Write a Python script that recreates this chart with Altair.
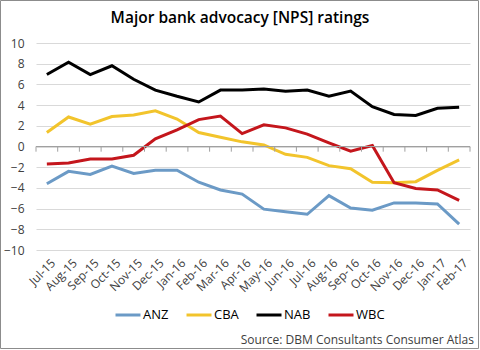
import altair as alt
import pandas as pd

months = ["Jul-15", "Aug-15", "Sep-15", "Oct-15", "Nov-15", "Dec-15", "Jan-16", "Feb-16",
          "Mar-16", "Apr-16", "May-16", "Jun-16", "Jul-16", "Aug-16", "Sep-16", "Oct-16",
          "Nov-16", "Dec-16", "Jan-17", "Feb-17"]
banks = ["ANZ", "CBA", "NAB", "WBC"]
anz = [-3.6, -2.4, -2.7, -1.9, -2.6, -2.3, -2.3, -3.45, -4.2, -4.6, -6.05, -6.3, -6.55, -4.75,
       -5.95, -6.15, -5.45, -5.45, -5.55, -7.5]
cba = [1.35, 2.85, 2.15, 2.9, 3.05, 3.45, 2.65, 1.35, 0.9, 0.45, 0.15, -0.75, -1.05, -1.85,
       -2.15, -3.45, -3.5, -3.4, -2.3, -1.3]
nab = [6.95, 8.15, 6.95, 7.8, 6.5, 5.45, 4.85, 4.3, 5.45, 5.45, 5.55, 5.35, 5.45, 4.85,
       5.35, 3.85, 3.1, 3.0, 3.7, 3.8]
wbc = [-1.7, -1.6, -1.2, -1.2, -0.85, 0.75, 1.6, 2.6, 2.95, 1.25, 2.1, 1.8, 1.2, 0.35,
       -0.45, 0.1, -3.5, -4.05, -4.2, -5.2]
colors = ["#6B9AC6", "#F2C42C", "#000000", "#C4161C"]
title_text = "Major bank advocacy [NPS] ratings"
source_text = "Source: DBM Consultants Consumer Atlas"
y_ticks = [-10, -8, -6, -4, -2, 0, 2, 4, 6, 8, 10]

rows = []
for bank, vals in zip(banks, [anz, cba, nab, wbc]):
    for m, v in zip(months, vals):
        rows.append({"bank": bank, "month": m, "value": v})
df = pd.DataFrame(rows)
mdf = pd.DataFrame({"month": months})

FONT = "Open Sans"
W, H = 434, 207
AXIS_GRAY = "#A0A0A0"
xscale = alt.Scale(type="band", paddingInner=0, paddingOuter=0)
yscale = alt.Scale(domain=[-10, 10], nice=False, zero=False)

x_axis = alt.Axis(orient="bottom", labelAngle=-45, ticks=False, domain=False, grid=False,
                  labelFontSize=12, labelColor="#404040", labelFont=FONT, labelPadding=7,
                  labelOffset=3, labelOverlap=False)
y_axis = alt.Axis(values=y_ticks, grid=True, gridColor="#D9D9D9",
                  domain=False, ticks=False, labelPadding=12, labelFontSize=12,
                  labelColor="#404040", labelFont=FONT, labelOverlap=False, labelFlush=False)

zero_line = alt.Chart(mdf).mark_rule(color=AXIS_GRAY, strokeWidth=1).encode(
    y=alt.Y(datum=0, scale=yscale, axis=y_axis, title=None)
)

ticks_start = alt.Chart(mdf).mark_rule(color=AXIS_GRAY, strokeWidth=1).encode(
    x=alt.X("month:O", sort=months, scale=xscale, bandPosition=0, axis=x_axis, title=None),
    y=alt.Y(datum=0, scale=yscale, axis=y_axis, title=None),
    y2=alt.datum(-0.5),
)
ticks_end = alt.Chart(mdf).transform_filter(
    alt.datum.month == months[-1]
).mark_rule(color=AXIS_GRAY, strokeWidth=1).encode(
    x=alt.X("month:O", sort=months, scale=xscale, bandPosition=1, axis=x_axis, title=None),
    y=alt.Y(datum=0, scale=yscale, axis=y_axis, title=None),
    y2=alt.datum(-0.5),
)

lines = alt.Chart(df).mark_line(strokeWidth=3).encode(
    x=alt.X("month:O", sort=months, scale=xscale, bandPosition=0.5, axis=x_axis, title=None),
    y=alt.Y("value:Q", scale=yscale, title=None, axis=y_axis),
    color=alt.Color("bank:N", scale=alt.Scale(domain=banks, range=colors),
                    legend=alt.Legend(orient="none", legendX=78, legendY=258,
                                      direction="horizontal", columns=4, title=None,
                                      symbolType="stroke", symbolSize=625,
                                      symbolStrokeWidth=3, labelFont=FONT,
                                      labelFontSize=13, labelColor="#000000",
                                      columnPadding=11, labelOffset=1)),
)

title = alt.Chart(pd.DataFrame({"t": [title_text]})).mark_text(
    align="center", baseline="alphabetic", font=FONT, fontSize=15.5, fontWeight=600,
    color="#000000"
).encode(text="t:N", x=alt.value(204), y=alt.value(-20))

source = alt.Chart(pd.DataFrame({"t": [source_text]})).mark_text(
    align="right", baseline="alphabetic", font=FONT, fontSize=12, color="#404040"
).encode(text="t:N", x=alt.value(438), y=alt.value(301))

border = alt.Chart(pd.DataFrame({"t": [0]})).mark_rect(
    fill=None, stroke="#8C8C8C", strokeWidth=1
).encode(x=alt.value(-35.5), x2=alt.value(442.5), y=alt.value(-42.5), y2=alt.value(305.5))

chart = alt.layer(lines, zero_line, ticks_start, ticks_end, title, source, border).properties(
    width=W, height=H,
    padding={"left": 36, "top": 43, "right": 10, "bottom": 100},
    autosize=alt.AutoSizeParams(type="none"),
).configure_view(stroke=None)

chart.save("out.html", embed_options={"renderer": "svg", "actions": False})
